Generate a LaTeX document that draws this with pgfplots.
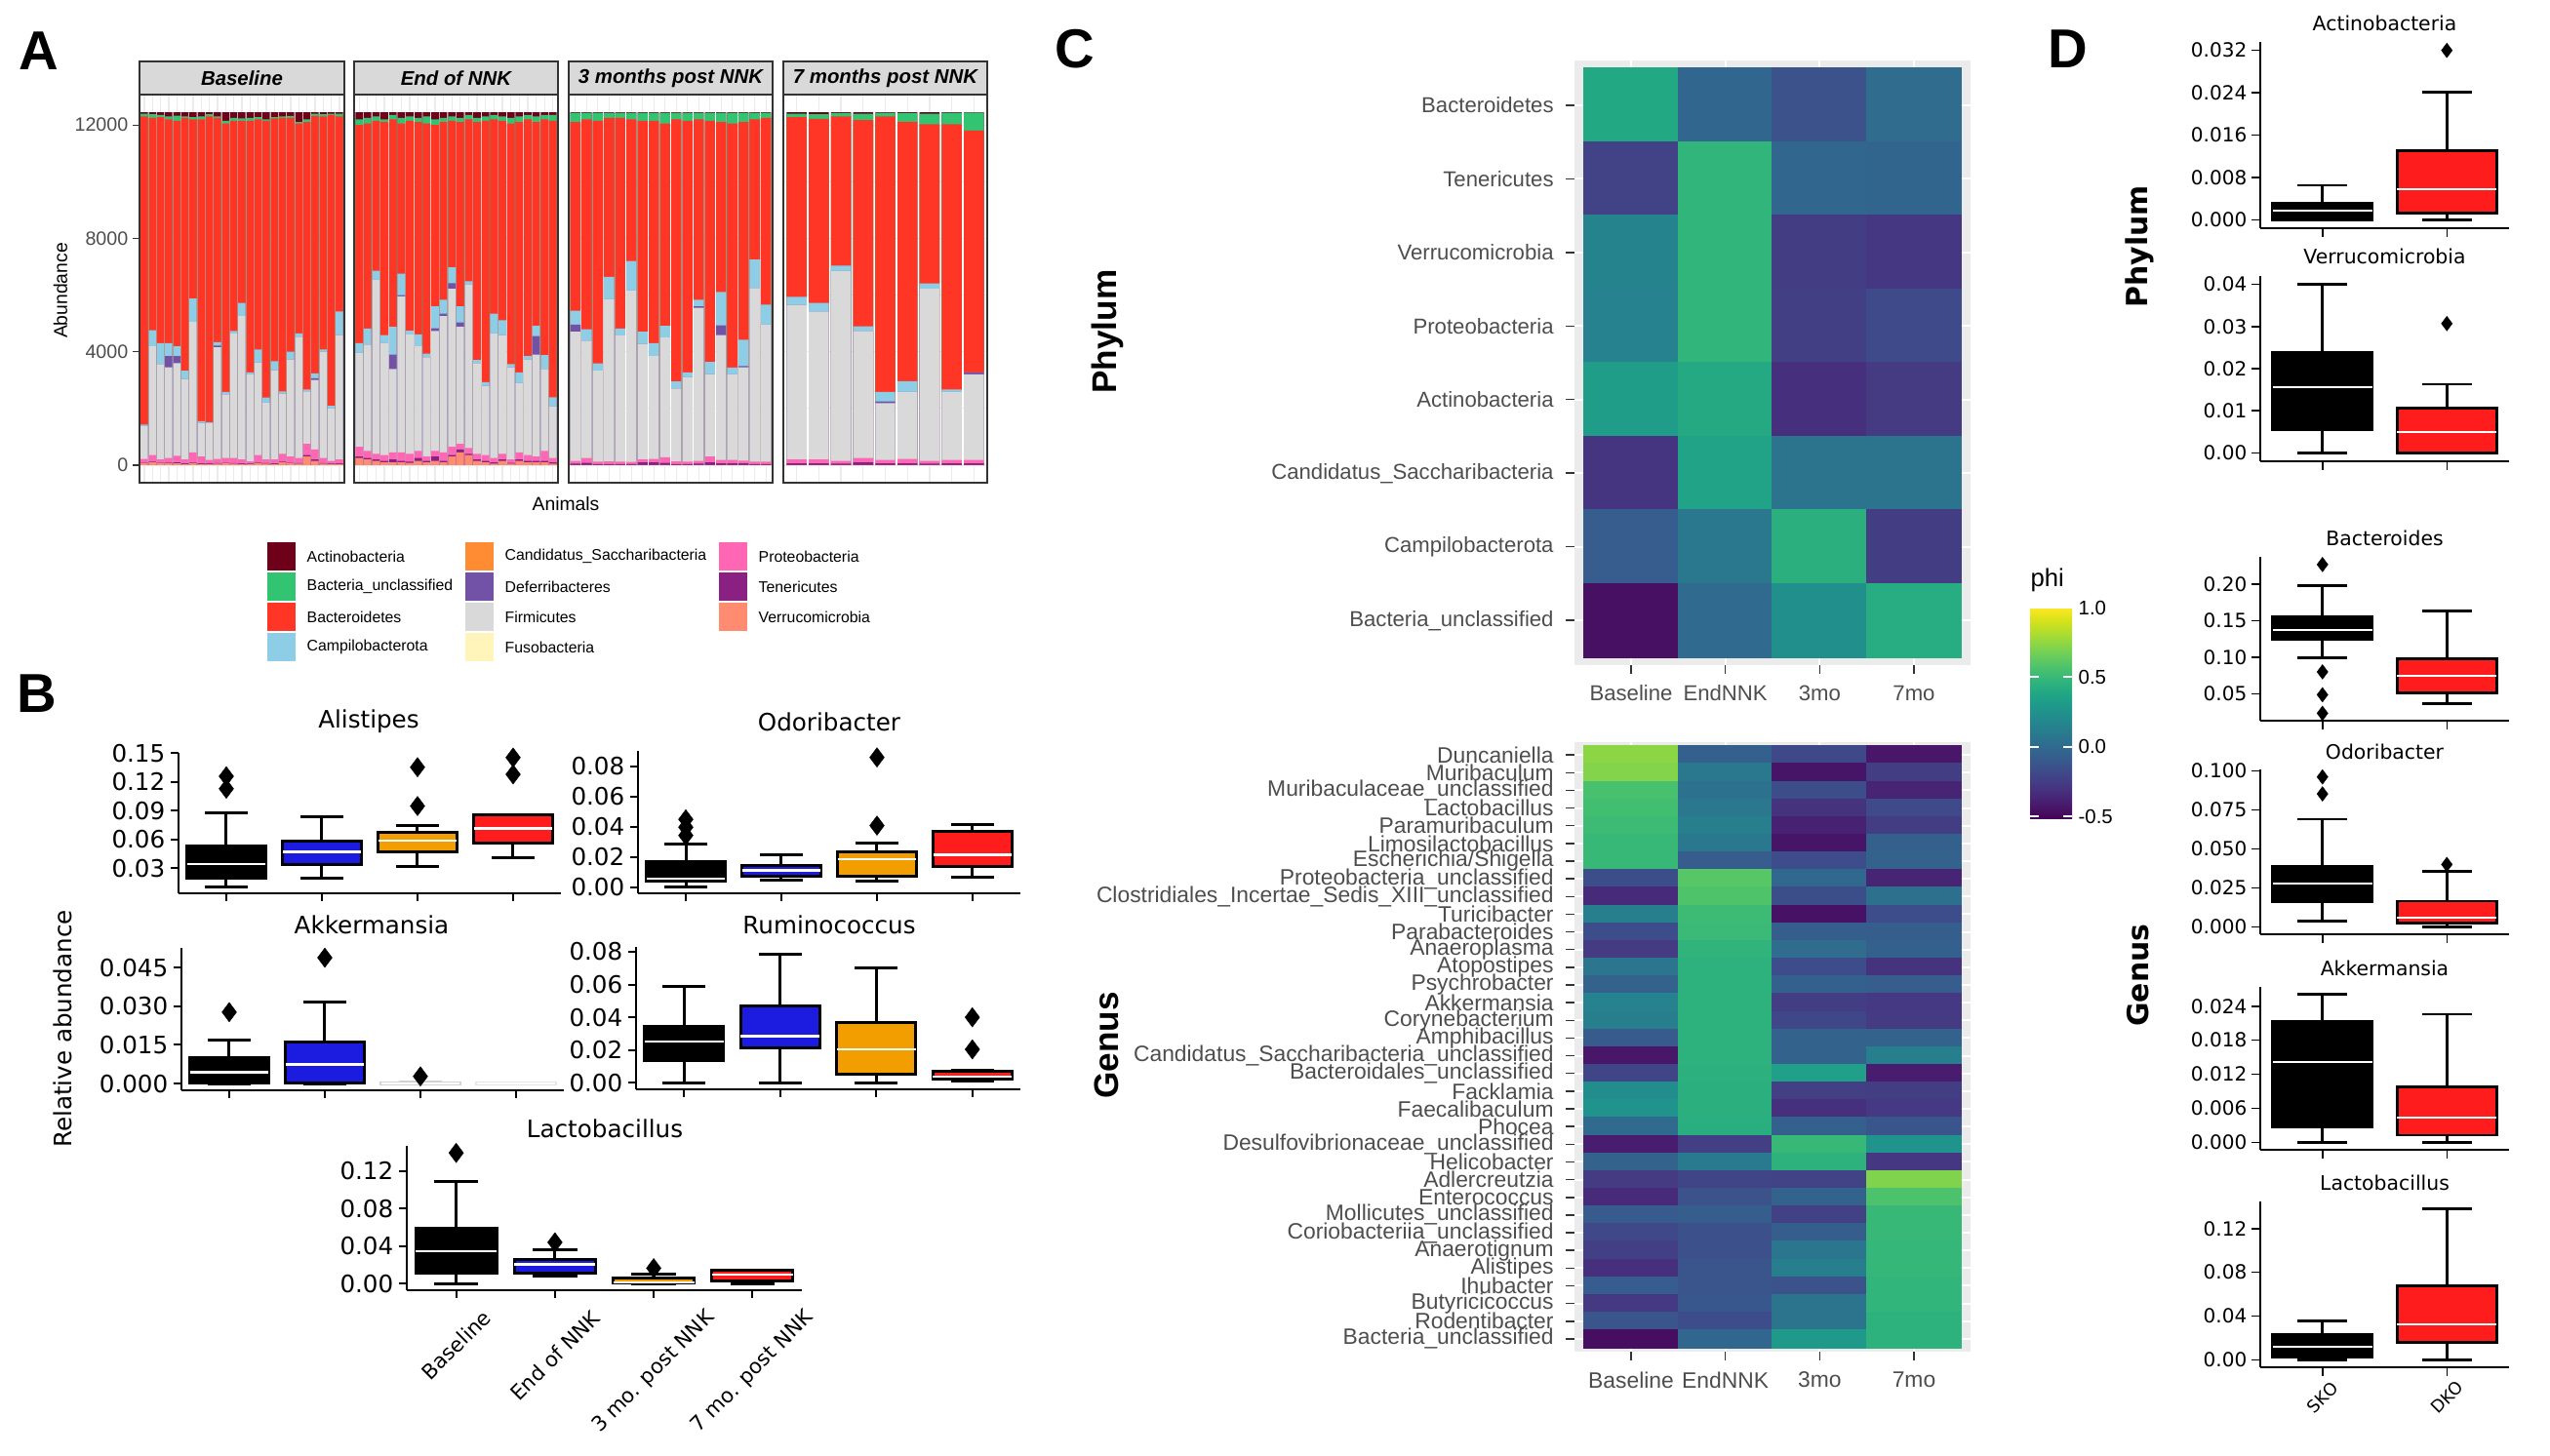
\documentclass[border=0pt]{standalone}
\usepackage{fontspec}
\usepackage{pgfplots}
\usepackage{pgfplotstable}
\pgfplotsset{compat=1.18}
\usepgfplotslibrary{statistics}
\setmainfont{Liberation Sans}
\newfontfamily\lib{Liberation Sans}
\newfontfamily\dv{DejaVu Sans}
\newcommand\fs[1]{\fontsize{#1}{#1}\selectfont}

% phylum colours (panel A)
\definecolor{cAct}{HTML}{6E0019}
\definecolor{cBunc}{HTML}{33C472}
\definecolor{cBact}{HTML}{FF3526}
\definecolor{cCamp}{HTML}{8ECDE6}
\definecolor{cCand}{HTML}{FF8C33}
\definecolor{cDef}{HTML}{7252A6}
\definecolor{cFirm}{HTML}{D9D9D9}
\definecolor{cFuso}{HTML}{FFF5BA}
\definecolor{cProt}{HTML}{FF66B3}
\definecolor{cTen}{HTML}{8B2083}
\definecolor{cVerr}{HTML}{FF8C70}
% ggplot greys
\definecolor{gg92}{HTML}{EBEBEB}
\definecolor{gg85}{HTML}{D9D9D9}
\definecolor{gg20}{HTML}{333333}
\definecolor{gg30}{HTML}{4D4D4D}
% box colours
\definecolor{bBlue}{HTML}{1C1CE0}
\definecolor{bOrange}{HTML}{F29E00}
\definecolor{bRed}{HTML}{FF1C1C}

% stacked abundance, cumulative tops of each layer
% A=Actinobacteria U=Bacteria_uncl T=Bacteroidetes R=Campilobacterota
% D=Deferribacteres G=Firmicutes P=Proteobacteria N=Tenericutes V=Verrucomicrobia
\pgfplotstableread{
x A U T R D G P N V
1 12450 12400 12300 1430 1380 1380 220 80 60
2 12450 12380 12250 4760 4190 4190 350 120 100
3 12450 12350 12280 4300 3560 3560 200 80 60
4 12450 12300 12200 4300 3850 3450 250 90 70
5 12450 12330 12150 4190 3850 3600 330 100 60
6 12450 12300 12250 3330 3040 3040 200 60 40
7 12450 12280 12200 5880 5050 5050 450 100 80
8 12450 12300 12200 1550 1490 1490 300 60 40
9 12450 12380 12300 1515 1480 1480 180 60 40
10 12450 12300 12250 4340 4220 4160 220 70 50
11 12450 12150 12050 2580 2500 2500 250 80 60
12 12450 12250 12150 4730 4640 4640 250 70 50
13 12450 12230 12150 5720 5260 5260 200 60 40
14 12450 12250 12150 3270 3200 3200 130 50 30
15 12450 12280 12200 4075 3620 3620 350 100 80
16 12450 12200 12150 2380 2200 2200 200 70 50
17 12450 12280 12230 3670 3350 3350 200 60 40
18 12450 12300 12250 2600 2520 2520 400 120 100
19 12450 12320 12250 4000 3730 3730 300 80 60
20 12450 12100 12050 4650 4530 4530 250 70 50
21 12450 12200 12100 2670 2600 2600 750 350 300
22 12450 12400 12320 3240 3060 3000 550 200 150
23 12450 12380 12300 4075 4000 4000 250 70 50
24 12450 12400 12350 2090 2000 2000 150 50 30
25 12450 12400 12300 5420 4590 4590 200 60 40
}\tBase
\pgfplotstableread{
x A U T R D G P N V
1 12450 12200 12000 4300 3960 3960 650 300 250
2 12450 12250 12050 4820 4250 4250 500 250 200
3 12450 12300 12150 6860 6540 6540 400 200 150
4 12450 12200 12100 4590 4300 4300 350 150 100
5 12450 12350 12200 4880 3900 3390 450 200 100
6 12450 12250 12050 6750 6000 5950 450 150 100
7 12450 12300 12150 4740 4600 4600 400 120 80
8 12450 12250 12100 4610 4190 4190 500 250 150
9 12450 12300 12050 3930 3800 3800 300 150 100
10 12450 12200 12000 5600 4830 4730 500 300 150
11 12450 12250 12100 5830 5340 5260 450 150 100
12 12450 12300 12150 6980 6420 6220 650 350 300
13 12450 12250 12100 5600 5030 4880 750 550 450
14 12450 12350 12200 6490 6370 6370 600 400 350
15 12450 12250 12100 3710 3600 3600 400 200 150
16 12450 12300 12150 2930 2800 2800 350 150 100
17 12450 12350 12200 5340 4650 4650 250 100 50
18 12450 12300 12150 5110 4590 4590 400 200 150
19 12450 12250 12050 3560 3450 3450 200 80 50
20 12450 12300 12100 3270 2890 2890 450 200 150
21 12450 12350 12200 3850 3720 3720 350 150 100
22 12450 12300 12100 4910 4550 3900 300 150 100
23 12450 12350 12200 3880 3390 3390 500 150 100
24 12450 12350 12150 2390 2070 2070 250 100 50
}\tEnd
\pgfplotstableread{
x A U T R D G P N V
1 12450 12430 12100 5450 4960 4710 150 50 0
2 12450 12430 12200 4790 4390 4390 250 80 0
3 12450 12430 12150 3590 3330 3330 120 40 0
4 12450 12430 12250 6640 5850 5850 130 40 0
5 12450 12430 12250 4820 4570 4570 120 40 0
6 12450 12430 12200 7200 6160 6160 110 40 0
7 12450 12430 12150 4710 4280 4280 200 100 0
8 12450 12430 12150 4300 3850 3850 220 100 0
9 12450 12430 12050 4910 4500 4500 280 80 0
10 12450 12430 12200 2950 2700 2700 130 40 0
11 12450 12430 12150 3270 3100 3100 120 40 0
12 12450 12430 12200 5830 5600 5550 150 50 0
13 12450 12430 12150 3640 3210 3210 300 100 0
14 12450 12430 12100 6110 4930 4590 180 60 0
15 12450 12430 12050 3440 3200 3200 180 60 0
16 12450 12430 12100 4420 3490 3450 160 60 0
17 12450 12430 12200 7250 6250 6250 120 40 0
18 12450 12430 12250 5660 4960 4960 120 40 0
}\tThree
\pgfplotstableread{
x A U T R D G P N V
1 12450 12400 12280 5940 5650 5650 200 60 0
2 12450 12380 12220 5720 5420 5420 200 60 0
3 12450 12420 12300 7040 6850 6850 150 50 0
4 12450 12400 12170 4900 4730 4730 250 100 0
5 12450 12430 12300 2580 2250 2190 180 60 0
6 12450 12420 12110 2960 2580 2580 220 60 0
7 12450 12400 12030 6410 6220 6220 150 50 0
8 12450 12430 12030 2670 2580 2580 180 60 0
9 12450 12440 11800 3270 3270 3200 180 60 0
}\tSeven

\pgfplotsset{
  facet/.style={scale only axis, height=39.8mm, ymin=-622, ymax=13072,
    scaled y ticks=false,
    axis line style={draw=gg20, line width=0.12mm},
    xticklabels={}, ytick={0,4000,8000,12000}, yticklabels={},
    minor ytick={2000,6000,10000}, minor tick length=0pt,
    xmajorgrids, ymajorgrids, yminorgrids,
    major grid style={gg92, line width=0.12mm},
    minor grid style={gg92, line width=0.06mm},
    xtick style={draw=none}, ytick style={draw=none}},
  stk/.style={ybar, bar shift=0pt, bar width=0.9, draw=none, fill=#1},
  bpd/.style n args={6}{boxplot prepared={draw position=#1, lower whisker=#2,
    lower quartile=#3, median=#4, upper quartile=#5, upper whisker=#6}},
  bpan/.style={scale only axis, xmin=-0.5, xmax=3.5, xtick={0,1,2,3}, xticklabels={},
    scaled y ticks=false,
    axis x line*=bottom, axis y line*=left, axis line style={-, line width=0.2mm},
    tick style={black, line width=0.2mm}, major tick length=0.8mm, tick align=outside,
    yticklabel style={font=\dv\fs{7}, inner sep=0.5mm},
    boxplot/draw direction=y, boxplot/box extend=0.82, boxplot/whisker extend=0.45},
  dpan/.style={scale only axis, width=25.5mm, xmin=-0.5, xmax=1.5, xtick={0,1}, xticklabels={},
    scaled y ticks=false,
    axis x line*=bottom, axis y line*=left, axis line style={-, line width=0.15mm},
    tick style={black, line width=0.15mm}, major tick length=0.9mm, tick align=outside,
    yticklabel style={font=\dv\fs{5.7}, inner sep=0.4mm},
    boxplot/draw direction=y, boxplot/box extend=0.8, boxplot/whisker extend=0.4},
  bx/.style={draw=black, line width=0.3mm,
    boxplot/every box/.style={draw=black, fill=#1, line width=0.3mm},
    boxplot/every median/.style={draw=white, line width=0.25mm},
    boxplot/every whisker/.style={draw=black, line width=0.3mm},
    mark=diamond*, mark size=1mm, mark options={draw=black, fill=black, line width=0.1pt, solid}},
  dx/.style={draw=black, line width=0.27mm,
    boxplot/every box/.style={draw=black, fill=#1, line width=0.27mm},
    boxplot/every median/.style={draw=white, line width=0.2mm},
    boxplot/every whisker/.style={draw=black, line width=0.27mm},
    mark=diamond*, mark size=0.75mm, mark options={draw=black, fill=black, line width=0.1pt, solid}},
  heat/.style={scale only axis, width=40.6mm, xmin=-0.6, xmax=3.6, y dir=reverse,
    colormap/viridis, point meta min=-0.52, point meta max=1.0,
    axis background/.style={fill=gg92}, axis line style={draw=none},
    tick style={draw=gg20, line width=0.15mm}, major tick length=0.9mm, tick align=outside,
    xtick pos=bottom, ytick pos=left, xtick={0,1,2,3},
    xticklabels={Baseline,EndNNK,3mo,7mo},
    tick label style={font=\lib\fs{6.3}, text=gg30},
    grid=major, major grid style={white, line width=0.2mm}},
}

\newcommand\stack[1]{%
  \addplot[stk=cAct] table[x=x,y=A]{#1};
  \addplot[stk=cBunc] table[x=x,y=U]{#1};
  \addplot[stk=cBact] table[x=x,y=T]{#1};
  \addplot[stk=cCamp] table[x=x,y=R]{#1};
  \addplot[stk=cDef] table[x=x,y=D]{#1};
  \addplot[stk=cFirm] table[x=x,y=G]{#1};
  \addplot[stk=cProt] table[x=x,y=P]{#1};
  \addplot[stk=cTen] table[x=x,y=N]{#1};
  \addplot[stk=cVerr] table[x=x,y=V]{#1};
}
\newcommand\legitem[5]{%
  \fill[#3] (#1mm,-#2mm) rectangle ++(2.9mm,-2.9mm);
  \node[anchor=west, font=\lib\fs{4.5}, inner sep=0pt] at (#4mm,-#2mm-1.45mm) {#5};}

\begin{document}
\begin{tikzpicture}
\useasboundingbox (0,0) rectangle (261.4mm,-149.3mm);

% ---------------- panel A ----------------
\node[font=\lib\bfseries\fs{16}] at (4.0mm,-5.2mm) {A};
\begin{axis}[facet, at={(14.3mm,-49.5mm)}, anchor=south west, width=21.0mm,
  xmin=0.4, xmax=25.6, xtick={1,...,25},
  ytick style={draw=gg20, line width=0.12mm}, tick align=outside, major tick length=0.7mm,
  ytick pos=left, yticklabels={0,4000,8000,12000},
  yticklabel style={font=\lib\fs{5.6}, text=gg30, inner sep=0.4mm}]
\stack{\tBase}
\end{axis}
\begin{axis}[facet, at={(36.3mm,-49.5mm)}, anchor=south west, width=20.9mm,
  xmin=0.4, xmax=24.6, xtick={1,...,24}]
\stack{\tEnd}
\end{axis}
\begin{axis}[facet, at={(58.3mm,-49.5mm)}, anchor=south west, width=20.9mm,
  xmin=0.4, xmax=18.6, xtick={1,...,18}]
\stack{\tThree}
\end{axis}
\begin{axis}[facet, at={(80.3mm,-49.5mm)}, anchor=south west, width=20.9mm,
  xmin=0.4, xmax=9.6, xtick={1,...,9}]
\stack{\tSeven}
\end{axis}
\foreach \xa/\xb/\lab in {14.3/35.3/Baseline, 36.3/57.2/End of NNK, 58.3/79.2/3 months post NNK, 80.3/101.2/7 months post NNK}{
  \draw[gg20, line width=0.12mm, fill=gg85] (\xa mm,-6.3mm) rectangle (\xb mm,-9.7mm);
  \node[font=\lib\bfseries\itshape\fs{5.8}] at ({(\xa+\xb)/2*1mm},-8.0mm) {\lab};
}
\node[rotate=90, font=\lib\fs{5.5}] at (6.2mm,-29.8mm) {Abundance};
\node[font=\lib\fs{5.5}] at (58.0mm,-51.7mm) {Animals};
% legend
\legitem{27.4}{55.6}{cAct}{31.4}{Actinobacteria}
\legitem{27.4}{58.7}{cBunc}{31.4}{Bacteria\_unclassified}
\legitem{27.4}{61.8}{cBact}{31.4}{Bacteroidetes}
\legitem{27.4}{64.9}{cCamp}{31.4}{Campilobacterota}
\legitem{47.7}{55.6}{cCand}{51.7}{Candidatus\_Saccharibacteria}
\legitem{47.7}{58.7}{cDef}{51.7}{Deferribacteres}
\legitem{47.7}{61.8}{cFirm}{51.7}{Firmicutes}
\legitem{47.7}{64.9}{cFuso}{51.7}{Fusobacteria}
\legitem{73.7}{55.6}{cProt}{77.7}{Proteobacteria}
\legitem{73.7}{58.7}{cTen}{77.7}{Tenericutes}
\legitem{73.7}{61.8}{cVerr}{77.7}{Verrucomicrobia}

% ---------------- panel B ----------------
\node[font=\lib\bfseries\fs{16}] at (3.8mm,-71.1mm) {B};
\node[rotate=90, font=\dv\fs{7}] at (6.4mm,-105.5mm) {Relative abundance};
\begin{axis}[bpan, at={(18.3mm,-77.2mm)}, anchor=north west, width=39.2mm, height=14.4mm,
  ymin=0.0036, ymax=0.1505, ytick={0.03,0.06,0.09,0.12,0.15}, yticklabels={0.03,0.06,0.09,0.12,0.15}]
\addplot[bx=black, bpd={0}{0.0104}{0.0199}{0.034}{0.0526}{0.0875}] coordinates {(0,0.126) (0,0.113)};
\addplot[bx=bBlue, bpd={1}{0.0199}{0.034}{0.0469}{0.0577}{0.0841}] coordinates {};
\addplot[bx=bOrange, bpd={2}{0.0317}{0.0469}{0.0587}{0.0672}{0.074}] coordinates {(2,0.1355) (2,0.0949)};
\addplot[bx=bRed, bpd={3}{0.0408}{0.0564}{0.0716}{0.0858}{0.0862}] coordinates {(3,0.1456) (3,0.128)};
\end{axis}
\begin{axis}[bpan, at={(65.4mm,-77.0mm)}, anchor=north west, width=39.2mm, height=14.6mm,
  ymin=-0.0039, ymax=0.0903, ytick={0,0.02,0.04,0.06,0.08}, yticklabels={0.00,0.02,0.04,0.06,0.08}]
\addplot[bx=black, bpd={0}{0.0006}{0.0039}{0.0058}{0.0172}{0.0286}] coordinates {(0,0.045) (0,0.0398) (0,0.0344)};
\addplot[bx=bBlue, bpd={1}{0.0047}{0.0075}{0.0112}{0.0146}{0.0215}] coordinates {};
\addplot[bx=bOrange, bpd={2}{0.0039}{0.0075}{0.0187}{0.0232}{0.0295}] coordinates {(2,0.086) (2,0.0409)};
\addplot[bx=bRed, bpd={3}{0.0069}{0.014}{0.0215}{0.037}{0.0417}] coordinates {};
\end{axis}
\begin{axis}[bpan, at={(18.6mm,-97.2mm)}, anchor=north west, width=39.2mm, height=14.6mm,
  ymin=-0.0026, ymax=0.0526, ytick={0,0.015,0.03,0.045}, yticklabels={0.000,0.015,0.030,0.045}]
\addplot[bx=black, bpd={0}{0}{0.0003}{0.0043}{0.00996}{0.0169}] coordinates {(0,0.0277)};
\addplot[bx=bBlue, bpd={1}{0}{0.0003}{0.0074}{0.0163}{0.0315}] coordinates {(1,0.0488)};
\addplot[bx=bOrange, draw=gray!35, boxplot/every box/.style={draw=gray!35, fill=gray!35, line width=0.3mm},
  boxplot/every whisker/.style={draw=gray!35, line width=0.3mm},
  bpd={2}{0}{0}{0.0001}{0.0004}{0.0008}] coordinates {(2,0.0028)};
\addplot[bx=bRed, draw=gray!20, boxplot/every box/.style={draw=gray!20, fill=gray!20, line width=0.3mm},
  boxplot/every whisker/.style={draw=gray!20, line width=0.3mm},
  bpd={3}{0}{0}{0}{0.0002}{0.0004}] coordinates {};
\end{axis}
\begin{axis}[bpan, at={(65.2mm,-97.1mm)}, anchor=north west, width=39.4mm, height=14.6mm,
  ymin=-0.004, ymax=0.083, ytick={0,0.02,0.04,0.06,0.08}, yticklabels={0.00,0.02,0.04,0.06,0.08}]
\addplot[bx=black, bpd={0}{0}{0.0135}{0.0252}{0.0347}{0.0586}] coordinates {};
\addplot[bx=bBlue, bpd={1}{0}{0.0212}{0.0284}{0.047}{0.0784}] coordinates {};
\addplot[bx=bOrange, bpd={2}{0}{0.005}{0.0204}{0.0371}{0.0699}] coordinates {};
\addplot[bx=bRed, bpd={3}{0.001}{0.002}{0.0036}{0.0073}{0.0075}] coordinates {(3,0.040) (3,0.0204)};
\end{axis}
\begin{axis}[bpan, at={(41.7mm,-117.5mm)}, anchor=north west, width=40.5mm, height=14.8mm,
  ymin=-0.007, ymax=0.147, ytick={0,0.04,0.08,0.12}, yticklabels={0.00,0.04,0.08,0.12}]
\addplot[bx=black, bpd={0}{0}{0.0113}{0.0346}{0.0593}{0.1094}] coordinates {(0,0.1395)};
\addplot[bx=bBlue, bpd={1}{0.0078}{0.0113}{0.0205}{0.0254}{0.036}] coordinates {(1,0.0441)};
\addplot[bx=bOrange, bpd={2}{0}{0.0005}{0.0015}{0.0055}{0.0105}] coordinates {(2,0.0165)};
\addplot[bx=bRed, bpd={3}{0}{0.003}{0.0099}{0.014}{0.014}] coordinates {};
\end{axis}
\node[font=\dv\fs{7}] at (37.8mm,-74.0mm) {Alistipes};
\node[font=\dv\fs{7}] at (85.0mm,-74.0mm) {Odoribacter};
\node[font=\dv\fs{7}] at (38.1mm,-94.8mm) {Akkermansia};
\node[font=\dv\fs{7}] at (85.0mm,-94.8mm) {Ruminococcus};
\node[font=\dv\fs{7}] at (62.0mm,-115.7mm) {Lactobacillus};
\node[rotate=45, font=\dv\fs{6}, inner sep=0.5pt] at (46.76mm,-137.9mm) {Baseline};
\node[rotate=45, font=\dv\fs{6}, inner sep=0.5pt] at (56.89mm,-139.0mm) {End of NNK};
\node[rotate=45, font=\dv\fs{6}, inner sep=0.5pt] at (67.01mm,-140.7mm) {3 mo. post NNK};
\node[rotate=45, font=\dv\fs{6}, inner sep=0.5pt] at (77.14mm,-140.7mm) {7 mo. post NNK};

% ---------------- panel C ----------------
\node[font=\lib\bfseries\fs{16}] at (110.2mm,-5.0mm) {C};
\node[rotate=90, font=\lib\bfseries\fs{10}] at (113.5mm,-34.0mm) {Phylum};
\node[rotate=90, font=\lib\bfseries\fs{10}] at (113.4mm,-107.2mm) {Genus};
\begin{axis}[heat, at={(161.4mm,-6.25mm)}, anchor=north west, height=61.9mm,
  ymin=-0.6, ymax=7.6, ytick={0,...,7},
  yticklabels={Bacteroidetes,Tenericutes,Verrucomicrobia,Proteobacteria,Actinobacteria,Candidatus\_Saccharibacteria,Campilobacterota,Bacteria\_unclassified},
  colorbar,
  colorbar style={at={(parent axis.north east)}, anchor=north west, xshift=3.1mm, yshift=-56.05mm,
    width=4.3mm, height=21.7mm, y dir=normal,
    ytick={-0.5,0,0.5,1}, yticklabels={-0.5,0.0,0.5,1.0},
    yticklabel style={font=\lib\fs{5.8}, text=black, inner sep=0.6mm},
    ytick style={draw=white, line width=0.2mm}, major tick length=0.9mm, tick align=inside,
    ytick pos=both, yticklabel pos=right, axis line style={draw=none},
    grid=none, axis background/.style={},
    title={phi}, title style={at={(0,1)}, anchor=south west, inner sep=0pt, yshift=-0.6mm, font=\lib\fs{7.3}}}]
\addplot[matrix plot*, mesh/cols=4, point meta=explicit] table[x=x, y=y, meta=c] {
x y c
0 0 0.39
1 0 -0.02
2 0 -0.14
3 0 0.01
0 1 -0.22
1 1 0.48
2 1 -0.02
3 1 -0.03
0 2 0.16
1 2 0.48
2 2 -0.25
3 2 -0.28
0 3 0.15
1 3 0.48
2 3 -0.24
3 3 -0.18
0 4 0.32
1 4 0.40
2 4 -0.32
3 4 -0.26
0 5 -0.29
1 5 0.36
2 5 0.06
3 5 0.06
0 6 -0.08
1 6 0.09
2 6 0.44
3 6 -0.25
0 7 -0.46
1 7 0.00
2 7 0.24
3 7 0.42
};
\end{axis}
\begin{axis}[heat, at={(161.4mm,-76.14mm)}, anchor=north west, height=62.42mm,
  ymin=-0.7, ymax=33.7, ytick={0,...,33},
  tick label style={font=\lib\fs{6.5}, text=gg30},
  yticklabel style={inner ysep=0pt},
  yticklabels={Duncaniella,Muribaculum,Muribaculaceae\_unclassified,Lactobacillus,Paramuribaculum,Limosilactobacillus,Escherichia/Shigella,Proteobacteria\_unclassified,Clostridiales\_Incertae\_Sedis\_XIII\_unclassified,Turicibacter,Parabacteroides,Anaeroplasma,Atopostipes,Psychrobacter,Akkermansia,Corynebacterium,Amphibacillus,Candidatus\_Saccharibacteria\_unclassified,Bacteroidales\_unclassified,Facklamia,Faecalibaculum,Phocea,Desulfovibrionaceae\_unclassified,Helicobacter,Adlercreutzia,Enterococcus,Mollicutes\_unclassified,Coriobacteriia\_unclassified,Anaerotignum,Alistipes,Ihubacter,Butyricicoccus,Rodentibacter,Bacteria\_unclassified}]
\addplot[matrix plot*, mesh/cols=4, point meta=explicit] table[x=x, y=y, meta=c] {
x y c
0 0 0.74
1 0 -0.06
2 0 -0.19
3 0 -0.43
0 1 0.72
1 1 0.09
2 1 -0.44
3 1 -0.25
0 2 0.56
1 2 0.05
2 2 -0.16
3 2 -0.37
0 3 0.54
1 3 0.08
2 3 -0.30
3 3 -0.18
0 4 0.52
1 4 0.13
2 4 -0.38
3 4 -0.25
0 5 0.50
1 5 0.09
2 5 -0.44
3 5 -0.06
0 6 0.50
1 6 -0.08
2 6 -0.17
3 6 -0.05
0 7 -0.16
1 7 0.60
2 7 -0.01
3 7 -0.37
0 8 -0.34
1 8 0.58
2 8 -0.16
3 8 0.04
0 9 0.13
1 9 0.52
2 9 -0.45
3 9 -0.17
0 10 -0.17
1 10 0.51
2 10 -0.07
3 10 -0.07
0 11 -0.26
1 11 0.47
2 11 0.01
3 11 -0.06
0 12 0.07
1 12 0.46
2 12 -0.17
3 12 -0.30
0 13 -0.05
1 13 0.46
2 13 -0.06
3 13 -0.08
0 14 0.15
1 14 0.46
2 14 -0.25
3 14 -0.27
0 15 0.13
1 15 0.46
2 15 -0.20
3 15 -0.26
0 16 -0.09
1 16 0.46
2 16 -0.05
3 16 -0.05
0 17 -0.43
1 17 0.46
2 17 -0.05
3 17 0.13
0 18 -0.21
1 18 0.45
2 18 0.34
3 18 -0.40
0 19 0.22
1 19 0.44
2 19 -0.24
3 19 -0.25
0 20 0.26
1 20 0.44
2 20 -0.32
3 20 -0.27
0 21 0.00
1 21 0.43
2 21 -0.06
3 21 -0.12
0 22 -0.40
1 22 -0.24
2 22 0.50
3 22 0.26
0 23 -0.05
1 23 0.10
2 23 0.46
3 23 -0.28
0 24 -0.26
1 24 -0.21
2 24 -0.22
3 24 0.71
0 25 -0.34
1 25 -0.14
2 25 -0.04
3 25 0.57
0 26 -0.09
1 26 -0.07
2 26 -0.23
3 26 0.50
0 27 -0.19
1 27 -0.15
2 27 -0.07
3 27 0.50
0 28 -0.24
1 28 -0.15
2 28 0.07
3 28 0.49
0 29 -0.32
1 29 -0.12
2 29 0.13
3 29 0.49
0 30 -0.08
1 30 -0.12
2 30 -0.14
3 30 0.48
0 31 -0.27
1 31 -0.11
2 31 0.06
3 31 0.48
0 32 -0.12
1 32 -0.17
2 32 0.06
3 32 0.46
0 33 -0.47
1 33 -0.02
2 33 0.30
3 33 0.46
};
\end{axis}

% ---------------- panel D ----------------
\node[font=\lib\bfseries\fs{16}] at (212.0mm,-5.0mm) {D};
\node[rotate=90, font=\dv\bfseries\fs{8.5}] at (219.3mm,-25.3mm) {Phylum};
\node[rotate=90, font=\dv\bfseries\fs{8.5}] at (219.2mm,-100.0mm) {Genus};
\begin{axis}[dpan, at={(231.7mm,-4.3mm)}, anchor=north west, height=19.1mm,
  ymin=-0.0016, ymax=0.0336, ytick={0,0.008,0.016,0.024,0.032}, yticklabels={0.000,0.008,0.016,0.024,0.032}]
\addplot[dx=black, bpd={0}{0}{0}{0.0017}{0.0031}{0.0065}] coordinates {};
\addplot[dx=bRed, bpd={1}{0}{0.0012}{0.0058}{0.013}{0.0241}] coordinates {(1,0.032)};
\end{axis}
\begin{axis}[dpan, at={(231.7mm,-28.3mm)}, anchor=north west, height=19.0mm,
  ymin=-0.002, ymax=0.042, ytick={0,0.01,0.02,0.03,0.04}, yticklabels={0.00,0.01,0.02,0.03,0.04}]
\addplot[dx=black, bpd={0}{0}{0.0054}{0.0156}{0.0238}{0.040}] coordinates {};
\addplot[dx=bRed, bpd={1}{0}{0}{0.005}{0.0107}{0.0163}] coordinates {(1,0.0307)};
\end{axis}
\begin{axis}[dpan, at={(231.7mm,-57.1mm)}, anchor=north west, height=16.8mm,
  ymin=0.0132, ymax=0.2375, ytick={0.05,0.10,0.15,0.20}, yticklabels={0.05,0.10,0.15,0.20}]
\addplot[dx=black, bpd={0}{0.099}{0.1244}{0.1377}{0.1555}{0.1983}] coordinates {(0,0.227) (0,0.080) (0,0.0487) (0,0.0233)};
\addplot[dx=bRed, bpd={1}{0.0366}{0.0509}{0.0745}{0.0981}{0.1635}] coordinates {};
\end{axis}
\begin{axis}[dpan, at={(231.7mm,-78.9mm)}, anchor=north west, height=16.9mm,
  ymin=-0.0048, ymax=0.101, ytick={0,0.025,0.05,0.075,0.1}, yticklabels={0.000,0.025,0.050,0.075,0.100}]
\addplot[dx=black, bpd={0}{0.0036}{0.0158}{0.0278}{0.0385}{0.069}] coordinates {(0,0.0962) (0,0.0853)};
\addplot[dx=bRed, bpd={1}{0}{0.0025}{0.0059}{0.0164}{0.0354}] coordinates {(1,0.040)};
\end{axis}
\begin{axis}[dpan, at={(231.7mm,-101.2mm)}, anchor=north west, height=16.7mm,
  ymin=-0.0013, ymax=0.0274, ytick={0,0.006,0.012,0.018,0.024}, yticklabels={0.000,0.006,0.012,0.018,0.024}]
\addplot[dx=black, bpd={0}{0}{0.0027}{0.0141}{0.0213}{0.0261}] coordinates {};
\addplot[dx=bRed, bpd={1}{0}{0.0013}{0.0044}{0.0098}{0.0226}] coordinates {};
\end{axis}
\begin{axis}[dpan, at={(231.7mm,-123.2mm)}, anchor=north west, height=17.0mm,
  ymin=-0.0069, ymax=0.1449, ytick={0,0.04,0.08,0.12}, yticklabels={0.00,0.04,0.08,0.12}]
\addplot[dx=black, bpd={0}{0}{0.0027}{0.0116}{0.023}{0.0355}] coordinates {};
\addplot[dx=bRed, bpd={1}{0}{0.0161}{0.0328}{0.0678}{0.1379}] coordinates {};
\end{axis}
\foreach \yy/\tt in {2.4/Actinobacteria, 26.3/Verrucomicrobia, 55.2/Bacteroides, 77.1/Odoribacter, 99.3/Akkermansia, 121.3/Lactobacillus}{
  \node[font=\dv\fs{5.8}] at (244.45mm,-\yy mm) {\tt};
}
\node[rotate=45, font=\dv\fs{5}] at (238.08mm,-143.3mm) {SKO};
\node[rotate=45, font=\dv\fs{5}] at (250.83mm,-143.3mm) {DKO};
\end{tikzpicture}
\end{document}
